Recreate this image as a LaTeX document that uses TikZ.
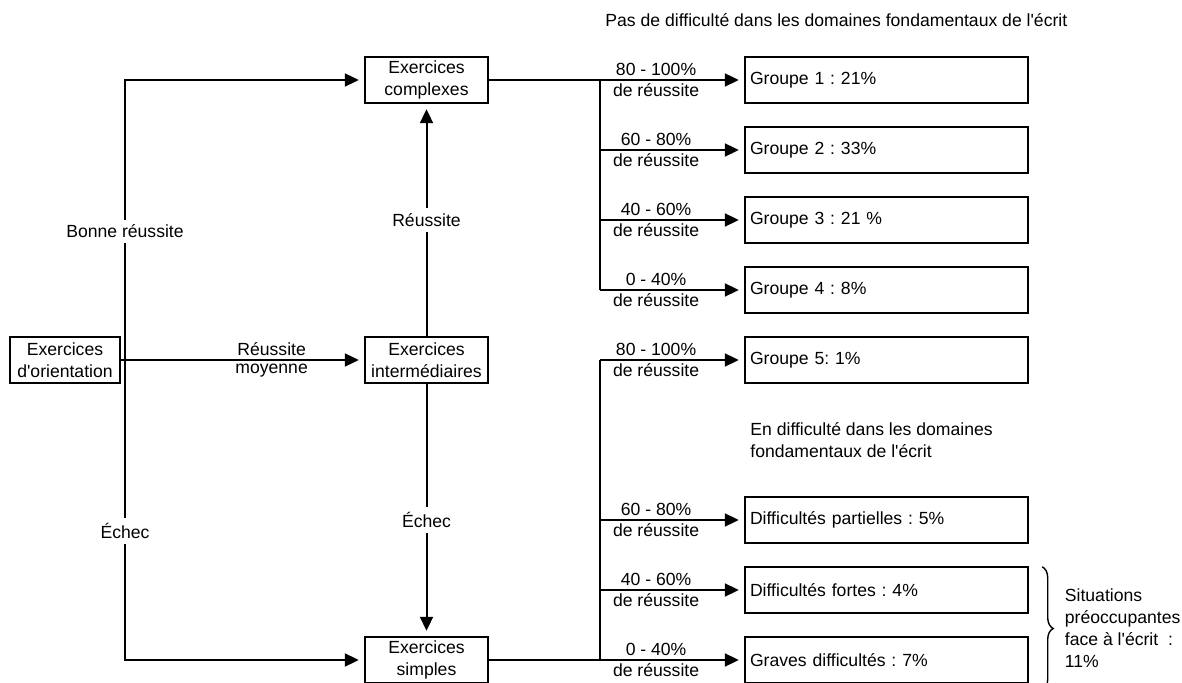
\documentclass[tikz,border=0pt]{standalone}
\usepackage{fontspec}
\setmainfont{Liberation Sans}[Ligatures=TeXOff]
\usepackage{tikz}
\usetikzlibrary{arrows.meta}
\usetikzlibrary{decorations.pathreplacing}
\tikzset{>={Triangle[length=7pt,width=6.5pt]}}
\frenchspacing

\begin{document}
\begin{tikzpicture}[x=0.5pt, y=-0.5pt, font=\fontsize{8.8}{11}\selectfont,
    exbox/.style={draw, line width=1.2pt, align=center, minimum width=61.5pt, minimum height=23pt, inner sep=1pt},
    grpbox/.style={draw, line width=1.2pt, text width=136.5pt, align=left, minimum height=23pt, inner xsep=2.5pt},
    link/.style={->, line width=1pt, shorten >=2.5pt},
    cut/.style={fill=white, inner sep=2.5pt},
    rate/.style={pos=.39, above, inner sep=1.5pt}]
    \useasboundingbox (0, 0) rectangle (1182, 683);
    \node[exbox, minimum width=55pt] (orient) at (65, 360) {Exercices\\d'orientation};
    \node[exbox] (cplx) at (426.5, 80) {Exercices\\complexes};
    \node[exbox] (inter) at (426.5, 360) {Exercices\\intermédiaires};
    \node[exbox] (simple) at (426.5, 660) {Exercices\\simples};
    \node[grpbox] (g1) at (886.5, 80) {Groupe 1 : 21\%};
    \node[grpbox] (g2) at (886.5, 150) {Groupe 2 : 33\%};
    \node[grpbox] (g3) at (886.5, 220) {Groupe 3 : 21 \%};
    \node[grpbox] (g4) at (886.5, 290) {Groupe 4 : 8\%};
    \node[grpbox] (g5) at (886.5, 360) {Groupe 5: 1\%};
    \node[grpbox] (dpart) at (886.5, 520) {Difficultés partielles : 5\%};
    \node[grpbox] (dfort) at (886.5, 590) {Difficultés fortes : 4\%};
    \node[grpbox] (dgrave) at (886.5, 660) {Graves difficultés : 7\%};
    \node[anchor=west, inner sep=0] (titletop) at (605, 20) {Pas de difficulté dans les domaines fondamentaux de l'écrit};
    \node[anchor=west, align=left, inner sep=0] (titlelow) at (750, 440) {En difficulté dans les domaines\\fondamentaux de l'écrit};
    \coordinate (split) at (125, 360);
    \coordinate (jtop) at (600, 80);
    \coordinate (jlow) at (600, 360);
    % left side
    \draw[link] (orient) -- node[pos=.62, above, inner sep=1.5pt] {Réussite} node[pos=.62, below, inner sep=1.5pt] {moyenne} (inter);
    \draw[link] (split) -- node[cut, pos=.46] {Bonne réussite} (split |- cplx) -- (cplx.west);
    \draw[link] (split) -- node[cut, pos=.57] {Échec} (split |- simple) -- (simple.west);
    \draw[link] (inter) -- node[cut] {Réussite} (cplx);
    \draw[link] (inter) -- node[cut, pos=.54] {Échec} (simple);
    % right side
    \draw[line width=1pt] (cplx.east) -- (jtop) -- (jtop |- g4);
    \draw[line width=1pt] (simple.east) -- (jlow |- simple) -- (jlow);
    \foreach \g/\r in {g1/80 - 100, g2/60 - 80, g3/40 - 60, g4/0 - 40, g5/80 - 100, dpart/60 - 80, dfort/40 - 60, dgrave/0 - 40}
        \draw[link] (jtop |- \g) -- node[rate] {\r\%} node[rate, below] {de réussite} (\g.west);
    \draw[decorate, decoration={brace, amplitude=5.5pt}, line width=0.7pt] ([xshift=6.5pt, yshift=-0.5pt]dfort.north east) -- node[midway, anchor=west, xshift=11pt, align=left, inner sep=0] (situ) {Situations\\préoccupantes\\face à l'écrit~ :\\11\%} ([xshift=6.5pt, yshift=-3pt]dgrave.south east);
\end{tikzpicture}
\end{document}
